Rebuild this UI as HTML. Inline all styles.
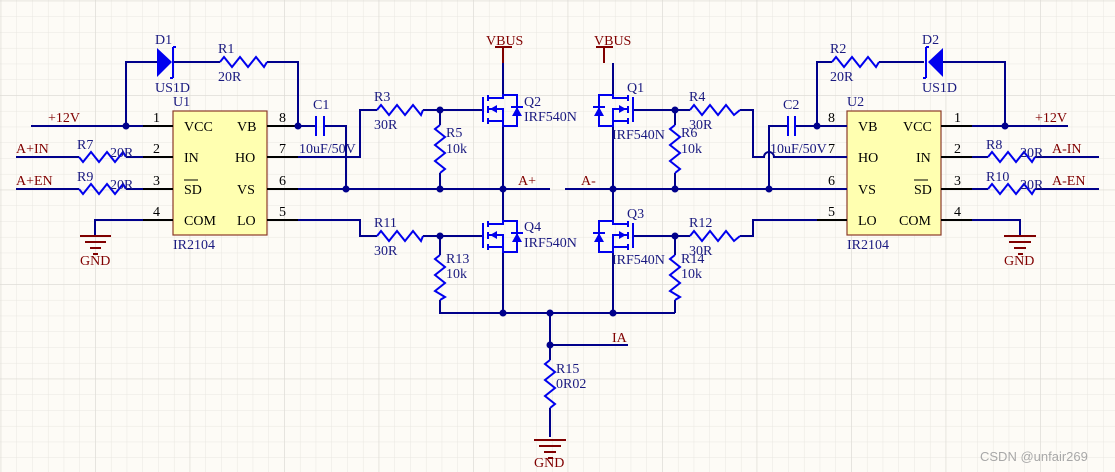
<!DOCTYPE html>
<html><head><meta charset="utf-8"><style>
html,body{margin:0;padding:0;background:#fdfbf6}
svg{display:block}
text{font-family:"Liberation Serif",serif;font-size:14px}
.l{fill:#1a1a80}
.n{fill:#800000}
.w{stroke:#00008b;stroke-width:2;fill:none}
.p{stroke:#000;stroke-width:2;fill:none}
.s{stroke:#0000ee;stroke-width:2;fill:none}
.g{stroke:#800000;stroke-width:2;fill:none}
</style></head><body>
<svg width="1115" height="472" viewBox="0 0 1115 472" xmlns="http://www.w3.org/2000/svg">
<defs>
<pattern id="gr" x="0.7" y="0.7" width="15.75" height="15.75" patternUnits="userSpaceOnUse">
<path d="M0 0H15.75M0 0V15.75" stroke="#e9e7e1" stroke-width="1" fill="none"/>
</pattern>
<pattern id="gr2" x="0.7" y="0.7" width="94.5" height="94.5" patternUnits="userSpaceOnUse">
<path d="M0 0H94.5M0 0V94.5" stroke="#dad8d2" stroke-width="1" fill="none"/>
</pattern>
</defs>
<rect width="1115" height="472" fill="#fdfbf6"/>
<rect width="1115" height="472" fill="url(#gr)"/>
<rect width="1115" height="472" fill="url(#gr2)"/>

<rect x="173" y="111" width="94" height="124" fill="#ffffb0" stroke="#8b3a2a" stroke-width="1.2"/>
<rect x="847" y="111" width="94" height="124" fill="#ffffb0" stroke="#8b3a2a" stroke-width="1.2"/>

<path class="p" d="M143 126H173M143 157H173M143 189H173M143 220H173M267 126H298M267 157H298M267 189H298M267 220H298"/>
<path class="p" d="M817 126H847M817 157H847M817 189H847M817 220H847M941 126H972M941 157H972M941 189H972M941 220H972"/>

<path class="w" d="M31 126H143M126 126V62H157M172 62H220M267 62H298V126M298 126H316M324 126H346V189M16 157H79M126 157H143M16 189H79M126 189H143M143 220H95V235"/>
<path class="w" d="M298 157H360V110H377M423 110H483M298 189H550M298 220H360V236H377M423 236H483M440 110V125M440 173V189M440 236V255M440 300V313H675M503 63V95M503 126V221M503 252V313M550 313V345H628M550 345V360M550 408V437"/>
<path class="w" d="M565 189H847M613 63V95M613 126V221M613 252V313M633 110H690M740 110H753V157H764A5 5 0 0 1 774 157H847M633 236H690M740 236H753V220H817M675 110V125M675 173V189M675 236V255M675 300V313"/>
<path class="w" d="M769 189V126H788M795 126H847M817 126V62H832M879 62H924M943 62H1005V126M972 126H1068M972 157H988M1035 157H1099M972 189H988M1035 189H1099M972 220H1020V235"/>

<g fill="#00008b">
<circle cx="126" cy="126" r="3.5"/><circle cx="298" cy="126" r="3.5"/><circle cx="346" cy="189" r="3.5"/>
<circle cx="440" cy="110" r="3.5"/><circle cx="440" cy="189" r="3.5"/><circle cx="503" cy="189" r="3.5"/>
<circle cx="440" cy="236" r="3.5"/><circle cx="503" cy="313" r="3.5"/><circle cx="550" cy="313" r="3.5"/>
<circle cx="613" cy="313" r="3.5"/><circle cx="550" cy="345" r="3.5"/><circle cx="613" cy="189" r="3.5"/>
<circle cx="675" cy="110" r="3.5"/><circle cx="675" cy="189" r="3.5"/><circle cx="675" cy="236" r="3.5"/>
<circle cx="769" cy="189" r="3.5"/><circle cx="817" cy="126" r="3.5"/><circle cx="1005" cy="126" r="3.5"/>
</g>

<g class="s">
<polyline points="220,62 224,57 232,67 240,57 248,67 256,57 264,67 267,62"/>
<polyline points="79,157 83,162 91,152 99,162 107,152 115,162 123,152 126,157"/>
<polyline points="79,189 83,194 91,184 99,194 107,184 115,194 123,184 126,189"/>
<polyline points="377,110 381,105 389,115 397,105 405,115 413,105 421,115 423,110"/>
<polyline points="377,236 381,231 389,241 397,231 405,241 413,231 421,241 423,236"/>
<polyline points="690,110 694,105 702,115 710,105 718,115 726,105 734,115 740,110"/>
<polyline points="690,236 694,231 702,241 710,231 718,241 726,231 734,241 740,236"/>
<polyline points="832,62 836,57 844,67 852,57 860,67 868,57 876,67 879,62"/>
<polyline points="988,157 992,152 1000,162 1008,152 1016,162 1024,152 1032,162 1035,157"/>
<polyline points="988,189 992,184 1000,194 1008,184 1016,194 1024,184 1032,194 1035,189"/>
<polyline points="440,125 435,129 445,137 435,145 445,153 435,161 445,169 440,173"/>
<polyline points="440,255 435,259 445,267 435,275 445,283 435,291 445,297 440,300"/>
<polyline points="675,125 670,129 680,137 670,145 680,153 670,161 680,169 675,173"/>
<polyline points="675,255 670,259 680,267 670,275 680,283 670,291 680,297 675,300"/>
<polyline points="550,360 545,364 555,372 545,380 555,388 545,396 555,404 550,408"/>
<path d="M316 116V136M324 116V136M788 116V136M795 116V136"/>
</g>

<polygon points="157,48 157,77 172,62" fill="#0000ee"/>
<path class="s" d="M173 47V78M173 47H176M173 78H170"/>
<polygon points="943,48 943,77 928,62" fill="#0000ee"/>
<path class="s" d="M926 47V78M926 47H929M926 78H923"/>

<g class="s">
<path d="M483 97V122M488 95V101M488 106V113M488 118V124M488 98H503V95H517V126H503V121H488M488 109H503V126"/>
<path d="M483 223V248M488 221V227M488 232V239M488 244V250M488 224H503V221H517V252H503V247H488M488 235H503V252"/>
<path d="M633 97V122M628 95V101M628 106V113M628 118V124M628 98H613V95H599V126H613V121H628M628 109H613V126"/>
<path d="M633 223V248M628 221V227M628 232V239M628 244V250M628 224H613V221H599V252H613V247H628M628 235H613V252"/>
</g>
<g fill="#0000ee">
<polygon points="490,109 497,105 497,113"/><polygon points="512,116 522,116 517,107"/>
<polygon points="490,235 497,231 497,239"/><polygon points="512,242 522,242 517,233"/>
<polygon points="626,109 619,105 619,113"/><polygon points="594,116 604,116 599,107"/>
<polygon points="626,235 619,231 619,239"/><polygon points="594,242 604,242 599,233"/>
</g>
<path class="s" d="M511 107H523M593 107H605M511 233H523M593 233H605"/>

<path class="g" d="M495 47H512M503 47V63M596 47H613M604 47V63"/>
<path class="g" d="M80 236H111M85 242H106M90 248H101M93 254H98M1004 236H1036M1009 242H1031M1014 248H1026M1018 254H1023M534 440H566M539 446H561M544 452H556M548 458H553"/>

<g class="l">
<text x="155" y="44">D1</text><text x="155" y="92">US1D</text>
<text x="218" y="53">R1</text><text x="218" y="81">20R</text>
<text x="173" y="106">U1</text><text x="173" y="249">IR2104</text>
<text x="313" y="109">C1</text><text x="299" y="153">10uF/50V</text>
<text x="77" y="149">R7</text><text x="110" y="157">20R</text>
<text x="77" y="181">R9</text><text x="110" y="189">20R</text>
<text x="374" y="101">R3</text><text x="374" y="129">30R</text>
<text x="446" y="137">R5</text><text x="446" y="153">10k</text>
<text x="524" y="106">Q2</text><text x="524" y="121">IRF540N</text>
<text x="524" y="231">Q4</text><text x="524" y="247">IRF540N</text>
<text x="374" y="227">R11</text><text x="374" y="255">30R</text>
<text x="446" y="263">R13</text><text x="446" y="278">10k</text>
<text x="627" y="92">Q1</text><text x="612" y="139">IRF540N</text>
<text x="627" y="218">Q3</text><text x="612" y="264">IRF540N</text>
<text x="689" y="101">R4</text><text x="689" y="129">30R</text>
<text x="681" y="137">R6</text><text x="681" y="153">10k</text>
<text x="689" y="227">R12</text><text x="689" y="255">30R</text>
<text x="681" y="263">R14</text><text x="681" y="278">10k</text>
<text x="556" y="373">R15</text><text x="556" y="388">0R02</text>
<text x="783" y="109">C2</text><text x="770" y="153">10uF/50V</text>
<text x="830" y="53">R2</text><text x="830" y="81">20R</text>
<text x="922" y="44">D2</text><text x="922" y="92">US1D</text>
<text x="847" y="106">U2</text><text x="847" y="249">IR2104</text>
<text x="986" y="149">R8</text><text x="1020" y="157">20R</text>
<text x="986" y="181">R10</text><text x="1020" y="189">20R</text>
</g>
<g fill="#000">
<text x="184" y="131">VCC</text><text x="184" y="162">IN</text><text x="184" y="194">SD</text><text x="184" y="225">COM</text>
<text x="237" y="131">VB</text><text x="235" y="162">HO</text><text x="237" y="194">VS</text><text x="237" y="225">LO</text>
<text x="858" y="131">VB</text><text x="858" y="162">HO</text><text x="858" y="194">VS</text><text x="858" y="225">LO</text>
<text x="903" y="131">VCC</text><text x="916" y="162">IN</text><text x="914" y="194">SD</text><text x="899" y="225">COM</text>
<text x="153" y="122">1</text><text x="153" y="153">2</text><text x="153" y="185">3</text><text x="153" y="216">4</text>
<text x="279" y="122">8</text><text x="279" y="153">7</text><text x="279" y="185">6</text><text x="279" y="216">5</text>
<text x="828" y="122">8</text><text x="828" y="153">7</text><text x="828" y="185">6</text><text x="828" y="216">5</text>
<text x="954" y="122">1</text><text x="954" y="153">2</text><text x="954" y="185">3</text><text x="954" y="216">4</text>
</g>
<path d="M184 180H198M914 180H928" stroke="#000" stroke-width="1"/>
<g class="n">
<text x="48" y="122">+12V</text><text x="16" y="153">A+IN</text><text x="16" y="185">A+EN</text>
<text x="80" y="265">GND</text><text x="1004" y="265">GND</text><text x="534" y="467">GND</text>
<text x="486" y="45">VBUS</text><text x="594" y="45">VBUS</text>
<text x="518" y="185">A+</text><text x="581" y="185">A-</text><text x="612" y="342">IA</text>
<text x="1035" y="122">+12V</text><text x="1052" y="153">A-IN</text><text x="1052" y="185">A-EN</text>
</g>
<text x="980" y="461" fill="#a8a8a8" style="font-family:'Liberation Sans',sans-serif;font-size:13px">CSDN @unfair269</text>
</svg>
</body></html>
